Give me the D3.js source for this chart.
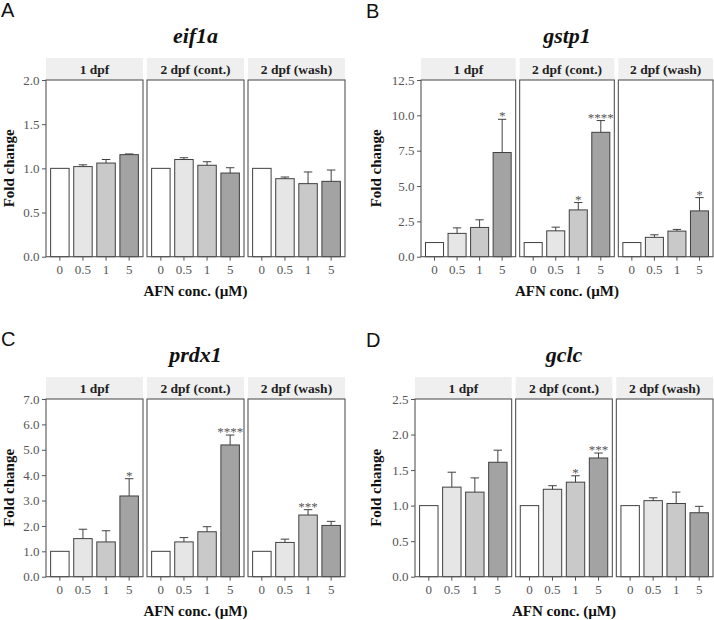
<!DOCTYPE html>
<html><head><meta charset="utf-8">
<script src="https://cdn.jsdelivr.net/npm/d3@7"></script>
<style>body{margin:0;background:#fff}svg{display:block;-webkit-font-smoothing:antialiased}</style>
</head><body>
<svg id="chart" width="714" height="620"></svg>
<script>
// ---------------- DATA ----------------
const doses = ["0", "0.5", "1", "5"];
const facets = ["1 dpf", "2 dpf (cont.)", "2 dpf (wash)"];
const genes = ["eif1a", "gstp1", "prdx1", "gclc"];
const panelLetters = ["A", "B", "C", "D"];
const xAxisTitle = "AFN conc. (\u00B5M)";
const yAxisTitle = "Fold change";

const eif1aTicks = ["0.0", "0.5", "1.0", "1.5", "2.0"];
const gstp1Ticks = ["0.0", "2.5", "5.0", "7.5", "10.0", "12.5"];
const prdx1Ticks = ["0.0", "1.0", "2.0", "3.0", "4.0", "5.0", "6.0", "7.0"];
const gclcTicks = ["0.0", "0.5", "1.0", "1.5", "2.0", "2.5"];

// mean fold change per facet (rows) and dose (cols)
const eif1aMean = [[1.00, 1.02, 1.06, 1.155], [1.00, 1.10, 1.035, 0.947], [1.00, 0.883, 0.827, 0.853]];
const eif1aSE   = [[0, 0.02, 0.04, 0.008], [0, 0.02, 0.04, 0.06], [0, 0.019, 0.132, 0.128]];
const eif1aSig  = [["", "", "", ""], ["", "", "", ""], ["", "", "", ""]];

const gstp1Mean = [[1.00, 1.65, 2.07, 7.37], [1.00, 1.83, 3.31, 8.80], [1.00, 1.37, 1.81, 3.24]];
const gstp1SE   = [[0, 0.39, 0.54, 2.35], [0, 0.26, 0.52, 0.83], [0, 0.18, 0.12, 0.94]];
const gstp1Sig  = [["", "", "", "*"], ["", "", "*", "****"], ["", "", "", "*"]];

const prdx1Mean = [[1.00, 1.50, 1.37, 3.18], [1.00, 1.37, 1.77, 5.19], [1.00, 1.35, 2.43, 2.02]];
const prdx1SE   = [[0, 0.37, 0.44, 0.68], [0, 0.17, 0.20, 0.39], [0, 0.13, 0.21, 0.16]];
const prdx1Sig  = [["", "", "", "*"], ["", "", "", "****"], ["", "", "***", ""]];

const gclcMean = [[1.00, 1.26, 1.19, 1.61], [1.00, 1.23, 1.33, 1.67], [1.00, 1.07, 1.03, 0.90]];
const gclcSE   = [[0, 0.21, 0.20, 0.17], [0, 0.05, 0.09, 0.07], [0, 0.04, 0.16, 0.09]];
const gclcSig  = [["", "", "", ""], ["", "", "*", "***"], ["", "", "", ""]];

// ---------------- STYLE / LAYOUT ----------------
const doseFill = ["#ffffff", "#e6e6e6", "#c9c9c9", "#a3a3a3"];
const serif = "Liberation Serif";
const sans = "Liberation Sans";
const ink = "#404040";
const grayText = "#555555";

const panels = [
  {gene: genes[0], letter: panelLetters[0], ticks: eif1aTicks, mean: eif1aMean, se: eif1aSE, sig: eif1aSig,
   left: 46, right: 345, top: 80, bottom: 256.7, lx: 1, ly: 17, labX: 13.5},
  {gene: genes[1], letter: panelLetters[1], ticks: gstp1Ticks, mean: gstp1Mean, se: gstp1SE, sig: gstp1Sig,
   left: 421, right: 713, top: 80, bottom: 256.7, lx: 366, ly: 18, labX: 381},
  {gene: genes[2], letter: panelLetters[2], ticks: prdx1Ticks, mean: prdx1Mean, se: prdx1SE, sig: prdx1Sig,
   left: 46, right: 345, top: 399, bottom: 576.7, lx: 1, ly: 346, labX: 13.5},
  {gene: genes[3], letter: panelLetters[3], ticks: gclcTicks, mean: gclcMean, se: gclcSE, sig: gclcSig,
   left: 415, right: 713, top: 399, bottom: 576.7, lx: 366, ly: 347, labX: 381}
];

const svg = d3.select("#chart");
const gap = 4, stripH = 22;

function font(sel, fam, size, weight, style) {
  sel.style("font-family", fam).style("font-size", size + "px")
     .style("font-weight", weight || "normal").style("font-style", style || "normal");
  return sel;
}

panels.forEach(p => {
  const g = svg.append("g");
  const tickVals = p.ticks.map(Number);
  const yMax = d3.max(tickVals);
  const y = d3.scaleLinear().domain([0, yMax]).range([p.bottom, p.top]);
  const fw = (p.right - p.left - 2 * gap) / 3;

  // panel letter
  font(g.append("text").attr("x", p.lx).attr("y", p.ly).text(p.letter).attr("fill", "#111"), sans, 20);

  // title
  font(g.append("text").attr("x", (p.left + p.right) / 2).attr("y", p.top - stripH - 15)
    .attr("text-anchor", "middle").attr("fill", "#111").text(p.gene), serif, 22, "bold", "italic");

  // y axis (on first facet)
  const yAxis = d3.axisLeft(y).tickValues(tickVals).tickFormat((d, i) => p.ticks[i]).tickSize(4).tickPadding(2.5);
  const ya = g.append("g").attr("transform", `translate(${p.left},0)`).call(yAxis);
  ya.select(".domain").remove();
  ya.selectAll("line").attr("stroke", grayText);
  font(ya.selectAll("text").attr("fill", grayText), serif, 13);

  // y title
  font(g.append("text").attr("transform", `translate(${p.labX},${(p.top + p.bottom) / 2}) rotate(-90)`)
    .attr("text-anchor", "middle").attr("fill", "#111").text(yAxisTitle), serif, 15, "bold");

  // x title
  font(g.append("text").attr("x", (p.left + p.right) / 2).attr("y", p.bottom + 39.5)
    .attr("text-anchor", "middle").attr("fill", "#111").text(xAxisTitle), serif, 15, "bold");

  facets.forEach((f, fi) => {
    const x0 = p.left + fi * (fw + gap);
    const x = d3.scaleBand().domain(doses).range([x0, x0 + fw]).paddingInner(0.2).paddingOuter(0.2);
    const fg = g.append("g");

    // strip
    fg.append("rect").attr("x", x0).attr("y", p.top - stripH).attr("width", fw).attr("height", stripH)
      .attr("fill", "#efefef");
    font(fg.append("text").attr("x", x0 + fw / 2).attr("y", p.top - 6).attr("text-anchor", "middle")
      .attr("fill", "#222").text(f), serif, 13.5, "bold");

    const rows = doses.map((d, di) => ({dose: d, di, mean: p.mean[fi][di], se: p.se[fi][di], sig: p.sig[fi][di]}));

    // bars
    fg.selectAll("rect.bar").data(rows).enter().append("rect").attr("class", "bar")
      .attr("x", d => x(d.dose)).attr("width", x.bandwidth())
      .attr("y", d => y(d.mean)).attr("height", d => y(0) - y(d.mean))
      .attr("fill", d => doseFill[d.di]).attr("stroke", ink).attr("stroke-width", 1);

    // error bars (upper only)
    const err = rows.filter(d => d.se > 0);
    const cw = x.bandwidth() * 0.46;
    fg.selectAll("line.ev").data(err).enter().append("line")
      .attr("x1", d => x(d.dose) + x.bandwidth() / 2).attr("x2", d => x(d.dose) + x.bandwidth() / 2)
      .attr("y1", d => y(d.mean)).attr("y2", d => y(d.mean + d.se))
      .attr("stroke", ink).attr("stroke-width", 1);
    fg.selectAll("line.ec").data(err).enter().append("line")
      .attr("x1", d => x(d.dose) + x.bandwidth() / 2 - cw / 2).attr("x2", d => x(d.dose) + x.bandwidth() / 2 + cw / 2)
      .attr("y1", d => y(d.mean + d.se)).attr("y2", d => y(d.mean + d.se))
      .attr("stroke", ink).attr("stroke-width", 1);

    // significance
    font(fg.selectAll("text.sig").data(rows.filter(d => d.sig)).enter().append("text")
      .attr("x", d => x(d.dose) + x.bandwidth() / 2).attr("y", d => y(d.mean + d.se) + 1)
      .attr("text-anchor", "middle").attr("fill", grayText).text(d => d.sig), serif, 13);

    // panel border
    fg.append("rect").attr("x", x0).attr("y", p.top).attr("width", fw).attr("height", p.bottom - p.top)
      .attr("fill", "none").attr("stroke", "#555").attr("stroke-width", 1.1);

    // x axis
    const xa = fg.append("g").attr("transform", `translate(0,${p.bottom})`)
      .call(d3.axisBottom(x).tickSize(4).tickPadding(4));
    xa.select(".domain").remove();
    xa.selectAll("line").attr("stroke", grayText);
    font(xa.selectAll("text").attr("fill", grayText), serif, 13);
  });
});
</script>
</body></html>
